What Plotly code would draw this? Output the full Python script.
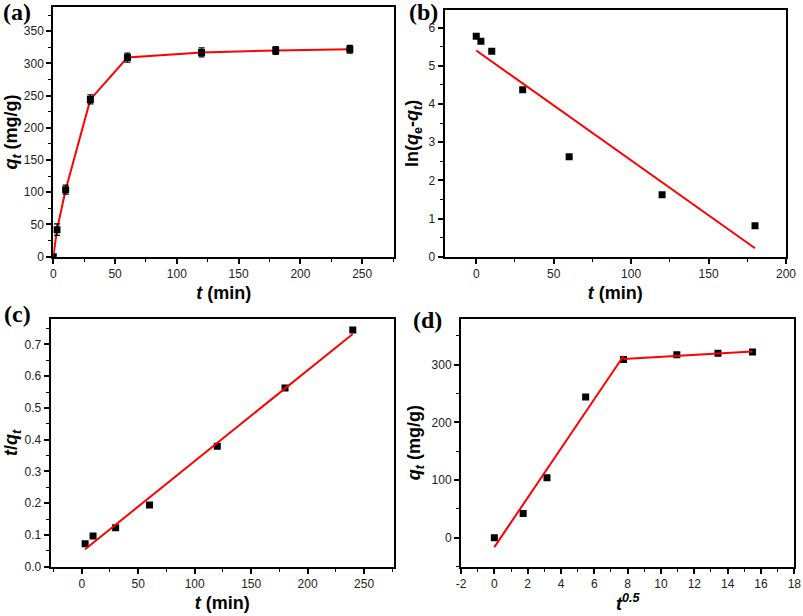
import plotly.graph_objects as go

# ---------------- data ----------------
# (a) adsorption kinetics
t_a = [0, 3, 10, 30, 60, 120, 180, 240]
qt_a = [0, 42, 104, 244, 309, 317, 320, 322]
err_a = [0, 9, 7, 7, 7, 7, 6, 6]

# (b) pseudo-first-order
t_b = [0, 3, 10, 30, 60, 120, 180]
ln_b = [5.77, 5.64, 5.38, 4.37, 2.62, 1.62, 0.81]
fit_b_t = [0, 180]
fit_b_y = [5.40, 0.22]

# (c) pseudo-second-order
t_c = [3, 10, 30, 60, 120, 180, 240]
tq_c = [0.072, 0.097, 0.123, 0.194, 0.379, 0.563, 0.745]
fit_c_t = [3, 240]
fit_c_y = [0.055, 0.733]

# (d) intraparticle diffusion
x_d = [0, 1.73, 3.16, 5.48, 7.75, 10.95, 13.42, 15.49]
qt_d = [0, 42, 104, 244, 309, 317, 320, 322]
fit_d1_x = [0, 7.75]
fit_d1_y = [-16, 315]
fit_d2_x = [7.75, 15.49]
fit_d2_y = [310, 323]
ticks_d_vals = [-2, 0, 2, 4, 6, 8, 10, 12, 14, 16, 18]
ticks_d_text = ["-2", "0", "2", "4", "6", "8", "10", "12", "14", "16", "18"]

# ---------------- layout helpers ----------------
W, H = 803, 616
RED = "#ff0000"
FONT = "Liberation Sans, Arial, sans-serif"


def dx(x0, x1):
    return [x0 / W, x1 / W]


def dy(top, bottom):
    return [1 - bottom / H, 1 - top / H]


def axis(domain, rng, dtick, minor, title, fmt=None, anchor=None, standoff=6):
    d = dict(
        domain=domain, range=rng, dtick=dtick, tick0=0,
        showline=True, mirror=True, linecolor="black", linewidth=2,
        ticks="outside", ticklen=5, tickwidth=1.5, tickcolor="black",
        showgrid=False, zeroline=False,
        tickfont=dict(family=FONT, size=12, color="#222"),
        minor=dict(dtick=minor, tick0=0, ticks="outside", ticklen=3,
                   tickwidth=1.2, tickcolor="black", showgrid=False),
        title=dict(text=title, font=dict(family=FONT, size=18, color="black"),
                   standoff=standoff),
        automargin=False, anchor=anchor,
    )
    if fmt:
        d["tickformat"] = fmt
    return d


fig = go.Figure()

# (a)
fig.add_trace(go.Scatter(x=t_a, y=qt_a, mode="lines", line=dict(color=RED, width=2),
                         xaxis="x", yaxis="y", showlegend=False))
fig.add_trace(go.Scatter(x=t_a, y=qt_a, mode="markers",
                         marker=dict(symbol="square", size=7, color="black"),
                         error_y=dict(type="data", array=err_a, color="black",
                                      thickness=1.2, width=3),
                         xaxis="x", yaxis="y", showlegend=False))
# (b)
fig.add_trace(go.Scatter(x=t_b, y=ln_b, mode="markers",
                         marker=dict(symbol="square", size=7, color="black"),
                         xaxis="x2", yaxis="y2", showlegend=False))
fig.add_trace(go.Scatter(x=fit_b_t, y=fit_b_y, mode="lines", line=dict(color=RED, width=2),
                         xaxis="x2", yaxis="y2", showlegend=False))
# (c)
fig.add_trace(go.Scatter(x=t_c, y=tq_c, mode="markers",
                         marker=dict(symbol="square", size=7, color="black"),
                         xaxis="x3", yaxis="y3", showlegend=False))
fig.add_trace(go.Scatter(x=fit_c_t, y=fit_c_y, mode="lines", line=dict(color=RED, width=2),
                         xaxis="x3", yaxis="y3", showlegend=False))
# (d)
fig.add_trace(go.Scatter(x=x_d, y=qt_d, mode="markers",
                         marker=dict(symbol="square", size=7, color="black"),
                         xaxis="x4", yaxis="y4", showlegend=False))
fig.add_trace(go.Scatter(x=fit_d1_x, y=fit_d1_y, mode="lines", line=dict(color=RED, width=2),
                         xaxis="x4", yaxis="y4", showlegend=False))
fig.add_trace(go.Scatter(x=fit_d2_x, y=fit_d2_y, mode="lines", line=dict(color=RED, width=2),
                         xaxis="x4", yaxis="y4", showlegend=False))

qt_title = "<b><i>q</i><sub><i>t</i></sub> (mg/g)</b>"
tmin_title = "<b><i>t</i> (min)</b>"

xd = axis(dx(461, 794.3), [-2, 18], 2, 1,
          "<b><i>t</i><sup><i>0.5</i></sup></b>", anchor="y4", standoff=7)
xd["tickmode"] = "array"
xd["tickvals"] = ticks_d_vals
xd["ticktext"] = ticks_d_text

fig.update_layout(
    width=W, height=H,
    margin=dict(l=0, r=0, t=0, b=0),
    paper_bgcolor="white", plot_bgcolor="white",
    showlegend=False,
    xaxis=axis(dx(53.3, 394.3), [0, 276], 50, 25, tmin_title, anchor="y", standoff=6),
    yaxis=axis(dy(7.3, 256.7), [0, 387], 50, 25, qt_title, anchor="x", standoff=0),
    xaxis2=axis(dx(444.5, 786), [-20.5, 200], 50, 25, tmin_title, anchor="y2", standoff=6),
    yaxis2=axis(dy(10, 256.7), [0, 6.46], 1, 0.5,
                "<b>ln(<i>q</i><sub>e</sub>-<i>q</i><sub><i>t</i></sub>)</b>",
                anchor="x2", standoff=5),
    xaxis3=axis(dx(50.7, 394), [-27.5, 276.5], 50, 25, tmin_title, anchor="y3", standoff=6),
    yaxis3=axis(dy(319, 566.7), [0, 0.78], 0.1, 0.05,
                "<b><i>t</i>/<i>q</i><sub><i>t</i></sub></b>", fmt=".1f",
                anchor="x3", standoff=2),
    xaxis4=xd,
    yaxis4=axis(dy(318.5, 566.7), [-50, 380], 100, 50, qt_title, anchor="x4", standoff=6),
)

labels = [("(a)", 17, 12), ("(b)", 423, 12), ("(c)", 17, 314), ("(d)", 427, 320)]
for txt, x, y in labels:
    fig.add_annotation(text="<b>%s</b>" % txt, xref="paper", yref="paper",
                       x=x / W, y=1 - y / H, xanchor="center", yanchor="middle",
                       showarrow=False,
                       font=dict(family="Liberation Serif, Times New Roman, serif",
                                 size=24, color="black"))

fig.write_html("out.html",
               config={"displayModeBar": False},
               post_script="document.body.style.margin='0px';"
                           "document.body.style.overflow='hidden';")
